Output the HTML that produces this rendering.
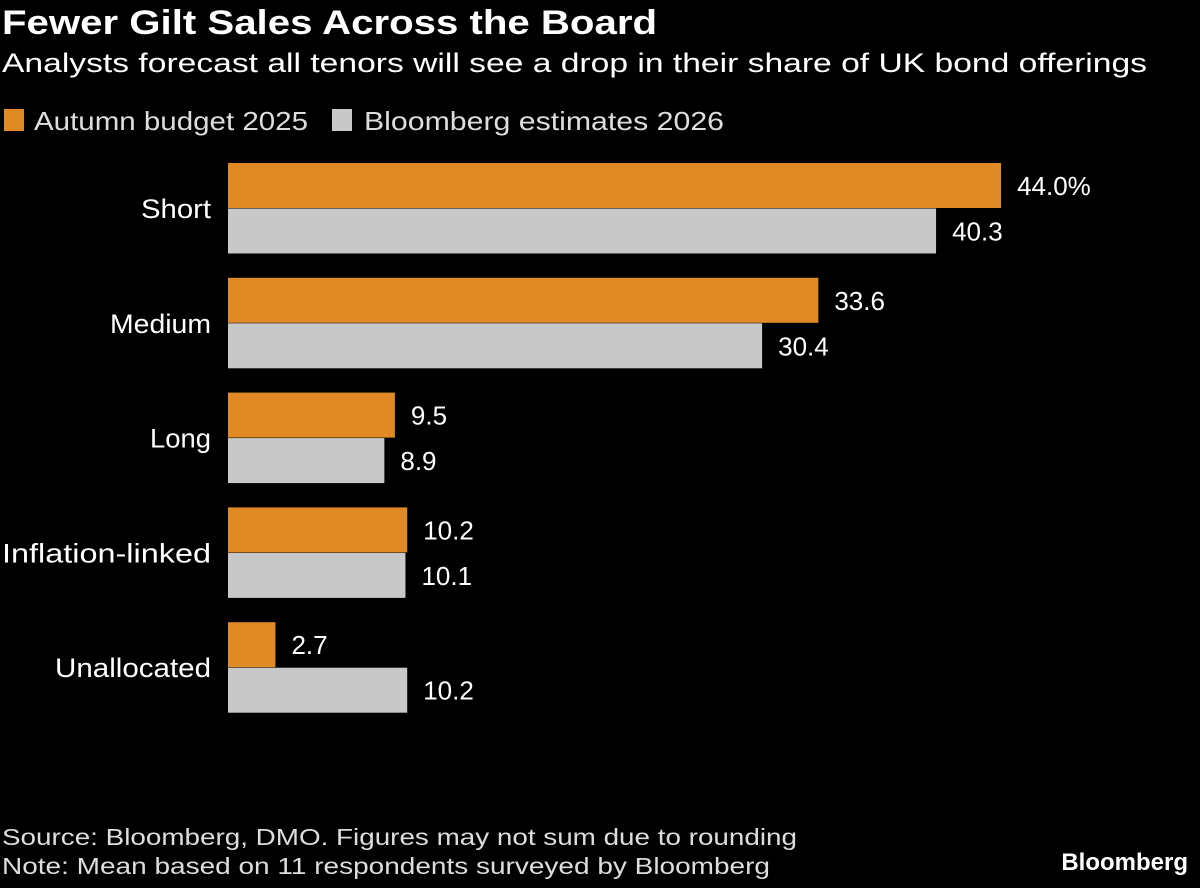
<!DOCTYPE html>
<html><head><meta charset="utf-8"><style>
body{margin:0;background:#000;width:1200px;height:883px;overflow:hidden;font-family:"Liberation Sans",sans-serif;color:#fff}
svg text{font-family:"Liberation Sans",sans-serif}
</style></head><body>
<svg width="1200" height="883">
<text x="2" y="34" font-size="34" font-weight="bold" fill="#fff" textLength="655" lengthAdjust="spacingAndGlyphs">Fewer Gilt Sales Across the Board</text>
<text x="2" y="72" font-size="27" fill="#fff" textLength="1145" lengthAdjust="spacingAndGlyphs">Analysts forecast all tenors will see a drop in their share of UK bond offerings</text>
<g>
<rect x="4" y="109" width="20" height="22" fill="#E08A25"/>
<text x="34" y="130" font-size="26" fill="#ddd" textLength="274" lengthAdjust="spacingAndGlyphs">Autumn budget 2025</text>
<rect x="332" y="109" width="20" height="22" fill="#C8C8C8"/>
<text x="364" y="130" font-size="26" fill="#ddd" textLength="360" lengthAdjust="spacingAndGlyphs">Bloomberg estimates 2026</text>
</g>
<g id="bars"></g>
<text x="2" y="845" font-size="23" fill="#ddd" textLength="795" lengthAdjust="spacingAndGlyphs">Source: Bloomberg, DMO. Figures may not sum due to rounding</text>
<text x="2" y="874" font-size="23" fill="#ddd" textLength="768" lengthAdjust="spacingAndGlyphs">Note: Mean based on 11 respondents surveyed by Bloomberg</text>
<text x="1188" y="870" font-size="24" font-weight="bold" text-anchor="end" fill="#fff">Bloomberg</text>
</svg>
<script>
const categories=["Short","Medium","Long","Inflation-linked","Unallocated"];
const budget=[44.0,33.6,9.5,10.2,2.7];
const estimates=[40.3,30.4,8.9,10.1,10.2];
const labelWidths=[70,101,61,209,156];
const ns="http://www.w3.org/2000/svg";
const g=document.getElementById('bars');
const x0=228, k=17.57;
function xs(v){return x0+v*k;}
function gy(i){return 163+i*114.8;}
function mk(t,a){const e=document.createElementNS(ns,t);for(const p in a)e.setAttribute(p,a[p]);g.appendChild(e);return e;}
categories.forEach((c,i)=>{
  const y=gy(i);
  const l=mk('text',{x:211-labelWidths[i],y:y+55,'font-size':27,fill:'#fff',textLength:labelWidths[i],lengthAdjust:'spacingAndGlyphs'});
  l.textContent=c;
  
  
  [[budget,'#E08A25',0,'bar-budget'],[estimates,'#C8C8C8',45.5,'bar-estimate']].forEach(([arr,col,off,nm],j)=>{
    const r=mk('rect',{x:x0,y:y+off,width:xs(arr[i])-x0,height:45,fill:col});
    
    
    const t=mk('text',{x:xs(arr[i])+16,y:y+off+32,'font-size':26,fill:'#fff'});
    t.textContent=arr[i].toFixed(1)+(i===0&&j===0?'%':'');
    
    
  });
});
</script>
</body></html>
